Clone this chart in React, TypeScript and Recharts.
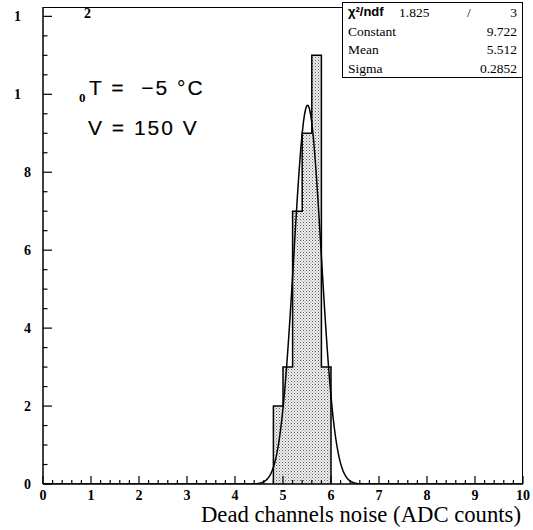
import React from 'react';
import { ComposedChart, Area, Line, XAxis, YAxis } from 'recharts';

// histogram bins (ADC counts) and entries per bin
const binEdges = [4.8, 5.0, 5.2, 5.4, 5.6, 5.8, 6.0];
const binCounts = [2, 3, 7, 9, 11, 3];

// gaussian fit results shown in the stats box
const fitConstant = 9.722;
const fitMean = 5.512;
const fitSigma = 0.2852;
const fitChi2 = '1.825';
const fitNdf = '3';

const xTickLabels = ['0', '1', '2', '3', '4', '5', '6', '7', '8', '9', '10'];
const yTickValues = [0, 2, 4, 6, 8, 10, 12];
const yTickLabels = ['0', '2', '4', '6', '8', '1', '1'];

const statsRows = [
  { name: 'Constant', value: '9.722' },
  { name: 'Mean', value: '5.512' },
  { name: 'Sigma', value: '0.2852' },
];

const W = 533;
const H = 530;
const LEFT = 43;
const TOP = 7;
const BOTTOM_AXIS = 46;
const RIGHT = 10;
const Y_MAX = 12.24;

const serif = '"Liberation Serif", "Times New Roman", serif';
const sans = '"Liberation Sans", Arial, sans-serif';

// step outline: start and end on the baseline
const histPoints = [
  { x: binEdges[0], count: 0 },
  ...binCounts.map((c, i) => ({ x: binEdges[i], count: c })),
  { x: binEdges[binEdges.length - 1], count: 0 },
];

// fit function evaluated along the axis range
const fitX = Array.from({ length: 401 }, (_, i) => i * 0.025);
const fitPoints = fitX.map((x) => ({
  x,
  fit: fitConstant * Math.exp(-0.5 * ((x - fitMean) / fitSigma) ** 2),
}));

const xTicks = Array.from({ length: 51 }, (_, i) => Math.round(i * 2) / 10);
const yTicks = Array.from({ length: 25 }, (_, i) => i * 0.5);

const XTick = (props: any) => {
  const { x, y, payload } = props;
  const v = payload.value;
  const major = Math.abs(v - Math.round(v)) < 1e-6;
  return (
    <g>
      <line x1={x} x2={x} y1={y} y2={y - (major ? 8 : 4)} stroke="#000" strokeWidth={1.2} />
      {major && (
        <text x={x} y={y + 16} textAnchor="middle" fontFamily={serif} fontWeight="bold" fontSize={14} fill="#000">
          {xTickLabels[Math.round(v)]}
        </text>
      )}
    </g>
  );
};

const YTick = (props: any) => {
  const { x, y, payload } = props;
  const v = payload.value;
  const idx = yTickValues.indexOf(v);
  const major = idx >= 0;
  const label = major ? yTickLabels[idx] : null;
  const short = label !== null && v >= 10;
  return (
    <g>
      <line x1={x} x2={x + (major ? 9 : 4.5)} y1={y} y2={y} stroke="#000" strokeWidth={1.2} />
      {label !== null && (
        <text
          x={short ? 21 : 31}
          y={y + 5}
          textAnchor="end"
          fontFamily={serif}
          fontWeight="bold"
          fontSize={14}
          fill="#000"
        >
          {label}
        </text>
      )}
    </g>
  );
};

const abs = (left: number, top: number, extra: React.CSSProperties = {}): React.CSSProperties => ({
  position: 'absolute',
  left,
  top,
  whiteSpace: 'nowrap',
  ...extra,
});

const noteStyle: React.CSSProperties = {
  fontFamily: sans,
  fontSize: 21,
  letterSpacing: 2,
  lineHeight: '26px',
  WebkitTextStroke: '0.15px #000',
};

export default function App() {
  const plotW = W - LEFT - RIGHT;
  const plotH = H - TOP - BOTTOM_AXIS;
  return (
    <div style={{ position: 'absolute', left: 0, top: 0, width: W, height: H, background: '#fff' }}>
      <svg width={0} height={0} style={{ position: 'absolute' }}>
        <defs>
          <pattern id="stipple" width={3} height={3} patternUnits="userSpaceOnUse">
            <rect width={3} height={3} fill="#eeeeee" />
            <rect x={0} y={0} width={1} height={1} fill="#5e5e5e" />
            <rect x={1.5} y={1.5} width={1} height={1} fill="#8a8a8a" />
          </pattern>
        </defs>
      </svg>
      <ComposedChart width={W} height={H} margin={{ top: TOP, right: RIGHT, bottom: 0, left: 0 }}>
        <XAxis
          dataKey="x"
          type="number"
          domain={[0, 10]}
          ticks={xTicks}
          interval={0}
          height={BOTTOM_AXIS}
          tickSize={0}
          tickMargin={0}
          tickLine={false}
          axisLine={{ stroke: '#000', strokeWidth: 1.5 }}
          tick={<XTick />}
          allowDataOverflow
        />
        <YAxis
          type="number"
          domain={[0, Y_MAX]}
          ticks={yTicks}
          interval={0}
          width={LEFT}
          tickSize={0}
          tickMargin={0}
          tickLine={false}
          axisLine={{ stroke: '#000', strokeWidth: 1.5 }}
          tick={<YTick />}
          allowDataOverflow
        />
        <Area
          data={histPoints}
          dataKey="count"
          type="stepAfter"
          stroke="#000"
          strokeWidth={1.5}
          fill="url(#stipple)"
          fillOpacity={1}
          isAnimationActive={false}
        />
        <Line
          data={fitPoints}
          dataKey="fit"
          type="linear"
          stroke="#000"
          strokeWidth={1.5}
          dot={false}
          isAnimationActive={false}
        />
      </ComposedChart>

      {/* top and right frame */}
      <div
        style={abs(LEFT, TOP, {
          width: plotW,
          height: plotH,
          borderTop: '1.5px solid #000',
          borderRight: '1.5px solid #000',
          boxSizing: 'border-box',
          pointerEvents: 'none',
        })}
      />

      {/* leftover tick digits */}
      <div style={abs(84, 6, { fontFamily: serif, fontWeight: 'bold', fontSize: 14, lineHeight: '16px' })}>2</div>
      <div style={abs(79, 90, { fontFamily: serif, fontWeight: 'bold', fontSize: 13, lineHeight: '16px' })}>0</div>

      <div style={abs(89, 75, noteStyle)}>T = &nbsp;−5 °C</div>
      <div style={abs(88, 115, noteStyle)}>V = 150 V</div>

      {/* fit statistics */}
      <div
        style={abs(342, 2, {
          width: 181,
          height: 76,
          background: '#fff',
          border: '1.5px solid #000',
          boxSizing: 'border-box',
        })}
      >
        <div style={{ position: 'relative', height: 19.5 }}>
          <span style={abs(5, 1, { fontFamily: sans, fontWeight: 'bold', fontSize: 13 })}>χ²/ndf</span>
          <span style={abs(56, 2, { fontFamily: serif, fontSize: 13.5 })}>{fitChi2}</span>
          <span style={abs(124, 2, { fontFamily: serif, fontSize: 13.5 })}>/</span>
          <span style={abs(0, 2, { left: 'auto', right: 5, fontFamily: serif, fontSize: 13.5 })}>{fitNdf}</span>
        </div>
        {statsRows.map((r) => (
          <div key={r.name} style={{ position: 'relative', height: 18.7 }}>
            <span style={abs(5, 1, { fontFamily: serif, fontSize: 13.5 })}>{r.name}</span>
            <span style={abs(0, 1, { left: 'auto', right: 5, fontFamily: serif, fontSize: 13.5 })}>{r.value}</span>
          </div>
        ))}
      </div>

      <div style={abs(0, 502, { left: 'auto', right: 12, fontFamily: serif, fontSize: 22.7, lineHeight: '26px' })}>
        Dead channels noise (ADC counts)
      </div>
    </div>
  );
}
